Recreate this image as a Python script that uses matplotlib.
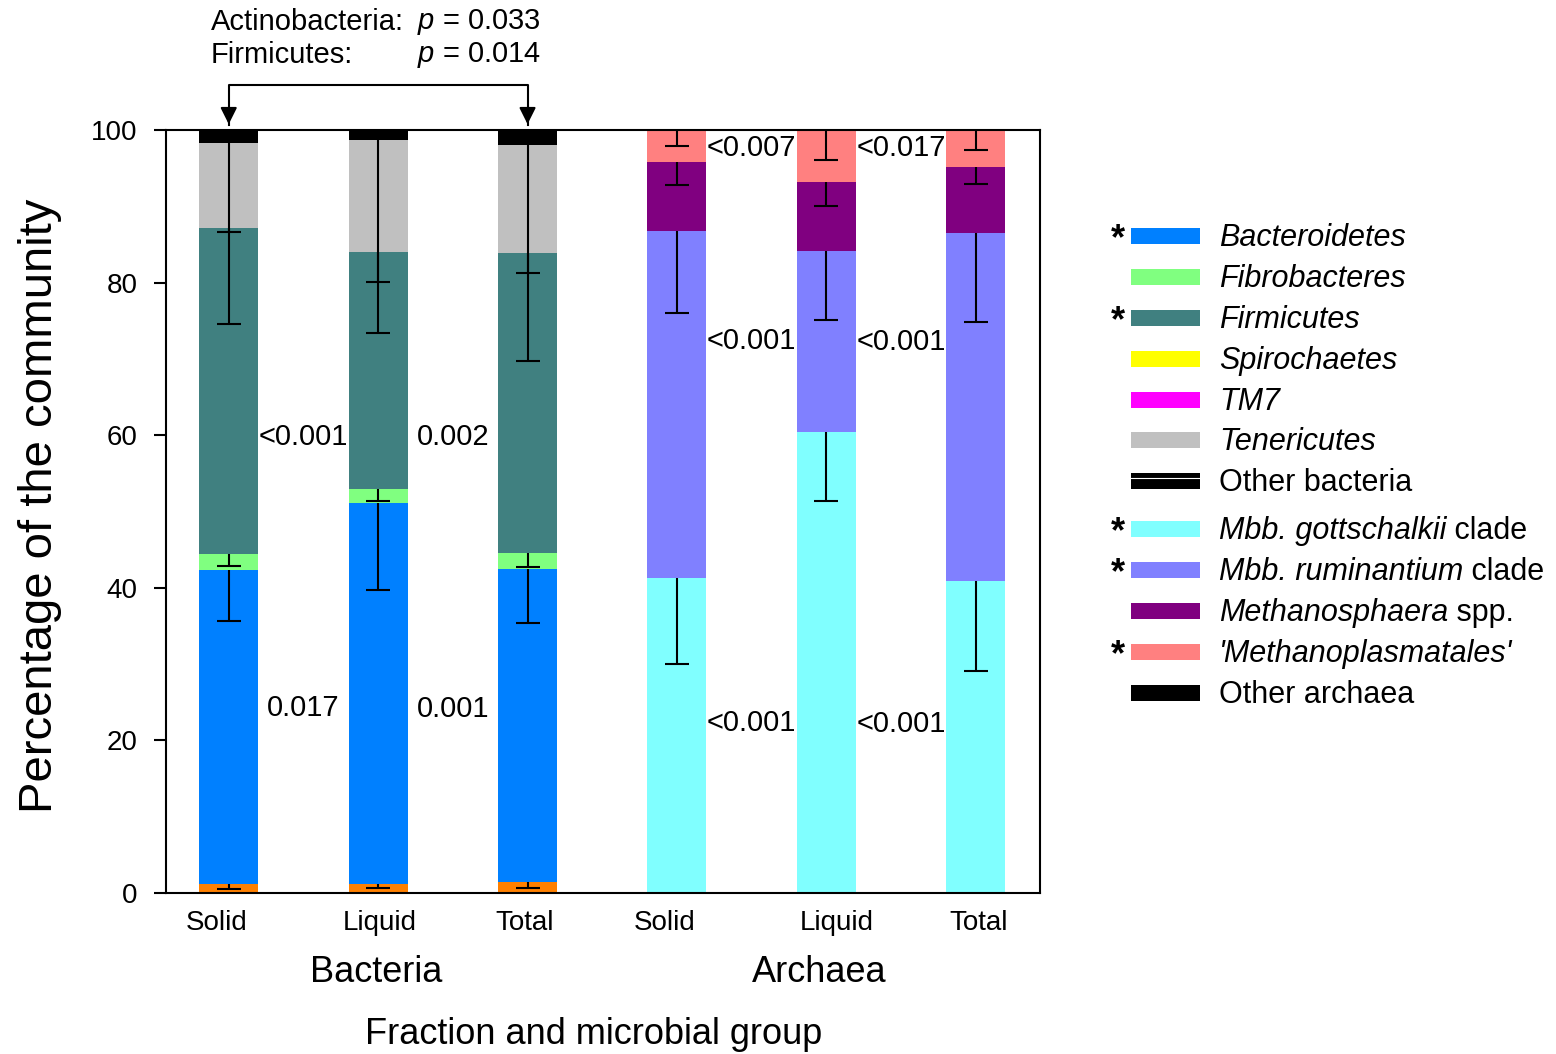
import numpy as np
import matplotlib.pyplot as plt
from matplotlib.patches import Rectangle

plt.rcParams.update({
    'font.family': ['Liberation Sans', 'DejaVu Sans'],
    'mathtext.fontset': 'custom',
    'mathtext.rm': 'Liberation Sans',
    'mathtext.it': 'Liberation Sans:italic',
    'axes.linewidth': 1.5,
})

W, H = 1556, 1054

fractions = ['Solid', 'Liquid', 'Total']
groups = ['Bacteria', 'Archaea']

# bacteria: mean % per fraction (Solid, Liquid, Total) and lower error
bac_taxa = ['Actinobacteria', 'Bacteroidetes', 'Fibrobacteres', 'Firmicutes',
            'Spirochaetes', 'TM7', 'Tenericutes', 'Other bacteria']
bac_colors = ['#FF8000', '#0080FF', '#80FF80', '#408080',
              '#FFFF00', '#FF00FF', '#C0C0C0', '#000000']
bac_vals = [
    [1.2, 1.2, 1.5],
    [41.1, 49.9, 41.0],
    [2.1, 1.8, 2.1],
    [42.8, 31.1, 39.3],
    [0.0, 0.0, 0.0],
    [0.0, 0.0, 0.0],
    [11.1, 14.7, 14.1],
    [1.7, 1.3, 2.0],
]
bac_err = [
    [0.65, 0.6, 0.85],
    [6.7, 11.4, 7.1],
    [1.5, 1.5, 1.9],
    [12.6, 10.6, 14.2],
    [0.0, 0.0, 0.0],
    [0.0, 0.0, 0.0],
    [11.7, 18.6, 16.7],
    [0.0, 0.0, 0.0],
]

arc_taxa = ['Mbb. gottschalkii clade', 'Mbb. ruminantium clade',
            'Methanosphaera spp.', "'Methanoplasmatales'", 'Other archaea']
arc_colors = ['#80FFFF', '#8080FF', '#800080', '#FF8080', '#000000']
arc_vals = [
    [41.3, 60.4, 40.9],
    [45.5, 23.7, 45.6],
    [9.0, 9.1, 8.7],
    [4.2, 6.8, 4.8],
    [0.0, 0.0, 0.0],
]
arc_err = [
    [11.3, 9.0, 11.8],
    [10.8, 9.0, 11.7],
    [3.0, 3.2, 2.3],
    [2.1, 3.9, 2.6],
    [0.0, 0.0, 0.0],
]

# p-values between fractions: (x, y, text)
p_labels = [
    (0.5, 59.8, '<0.001'), (1.5, 59.8, '0.002'),
    (0.5, 24.2, '0.017'), (1.5, 24.1, '0.001'),
    (3.5, 97.6, '<0.007'), (4.5, 97.7, '<0.017'),
    (3.5, 72.3, '<0.001'), (4.5, 72.2, '<0.001'),
    (3.5, 22.3, '<0.001'), (4.5, 22.1, '<0.001'),
]

# legend rows: (italic part, plain part, color, starred)
legend_rows = [
    ('Bacteroidetes', '', '#0080FF', True),
    ('Fibrobacteres', '', '#80FF80', False),
    ('Firmicutes', '', '#408080', True),
    ('Spirochaetes', '', '#FFFF00', False),
    ('TM7', '', '#FF00FF', False),
    ('Tenericutes', '', '#C0C0C0', False),
    ('', 'Other bacteria', '#000000', False),
    ('Mbb. gottschalkii', ' clade', '#80FFFF', True),
    ('Mbb. ruminantium', ' clade', '#8080FF', True),
    ('Methanosphaera', ' spp.', '#800080', False),
    ("'Methanoplasmatales'", '', '#FF8080', True),
    ('', 'Other archaea', '#000000', False),
]
legend_y = [236, 277, 318, 359, 400, 440, 481, 529, 570, 611, 652, 693]

fig = plt.figure(figsize=(W / 100, H / 100), dpi=100)
ax = fig.add_axes([166 / W, 1 - 893 / H, (1040 - 166) / W, (893 - 130) / H])

width = 0.395
xb = np.arange(3)
xa = np.arange(3, 6)


def stack(xpos, vals, errs, colors):
    bottom = np.zeros(len(xpos))
    for v, e, c in zip(vals, errs, colors):
        v = np.array(v)
        e = np.array(e)
        ax.bar(xpos, v, width, bottom=bottom, color=c, linewidth=0, zorder=2)
        tops = bottom + v
        m = e > 0
        if m.any():
            # lower error only, cap at the bottom end
            ax.vlines(xpos[m], tops[m] - e[m], tops[m], color='black',
                      lw=1.5, zorder=4)
            ax.plot(xpos[m], tops[m] - e[m], ls='none', marker='_',
                    ms=17, mew=1.5, color='black', zorder=4)
        bottom = tops


stack(xb, bac_vals, bac_err, bac_colors)
stack(xa, arc_vals, arc_err, arc_colors)

for x, y, t in p_labels:
    ax.text(x, y, t, ha='center', va='center', fontsize=21, zorder=5)

ax.set_xlim(-0.42, 5.43)
ax.set_ylim(0, 100)
ax.set_yticks(np.arange(0, 101, 20))
ax.tick_params(axis='y', direction='out', length=8.6, width=1.5,
               labelsize=20, pad=12)
ax.set_xticks([-0.08, 1.01, 1.98, 2.92, 4.07, 5.02])
ax.set_xticklabels(fractions + fractions)
ax.tick_params(axis='x', length=0, labelsize=20, pad=12)

# bracket between Solid and Total bacteria
ax.plot([0, 0, 2, 2], [100.7, 105.9, 105.9, 100.7], color='black',
        lw=1.5, clip_on=False, zorder=6)
for xx in [0, 2]:
    ax.annotate('', xy=(xx, 100.4), xytext=(xx, 103.0),
                arrowprops=dict(arrowstyle='-|>,head_length=0.5,head_width=0.25',
                                color='black', lw=1.5, mutation_scale=20),
                annotation_clip=False)

# overlay in pixel coordinates for labels and legend
ov = fig.add_axes([0, 0, 1, 1])
ov.set_xlim(0, W)
ov.set_ylim(H, 0)
ov.axis('off')

ov.text(211, 22, 'Actinobacteria:', fontsize=21, va='center', ha='left')
ov.text(417, 22, r'$\mathit{p}$ = 0.033', fontsize=21, va='center', ha='left')
ov.text(211, 55, 'Firmicutes:', fontsize=21, va='center', ha='left')
ov.text(417, 55, r'$\mathit{p}$ = 0.014', fontsize=21, va='center', ha='left')

ov.text(376, 973, groups[0], fontsize=26, ha='center', va='center')
ov.text(819, 972, groups[1], fontsize=26, ha='center', va='center')
ov.text(594, 1034, 'Fraction and microbial group', fontsize=26,
        ha='center', va='center')
ov.text(40, 506, 'Percentage of the community', fontsize=34, rotation=90,
        ha='center', va='center')

renderer = fig.canvas.get_renderer()
for (it, plain, col, star), yy in zip(legend_rows, legend_y):
    ov.add_patch(Rectangle((1131, yy - 8), 69, 16, color=col, lw=0))
    if plain == 'Other bacteria':
        ov.plot([1131, 1200], [yy - 3, yy - 3], color='white', lw=0.8)
    if star:
        ov.text(1118, yy + 4, '*', fontsize=26, fontweight='bold',
                ha='center', va='center')
    xt = 1219
    if it:
        t = ov.text(xt, yy + 2, it, fontsize=22, style='italic',
                    ha='left', va='center')
        xt += t.get_window_extent(renderer).width
    if plain:
        ov.text(xt, yy + 2, plain, fontsize=22, ha='left', va='center')

fig.savefig('out.png', dpi=100)
